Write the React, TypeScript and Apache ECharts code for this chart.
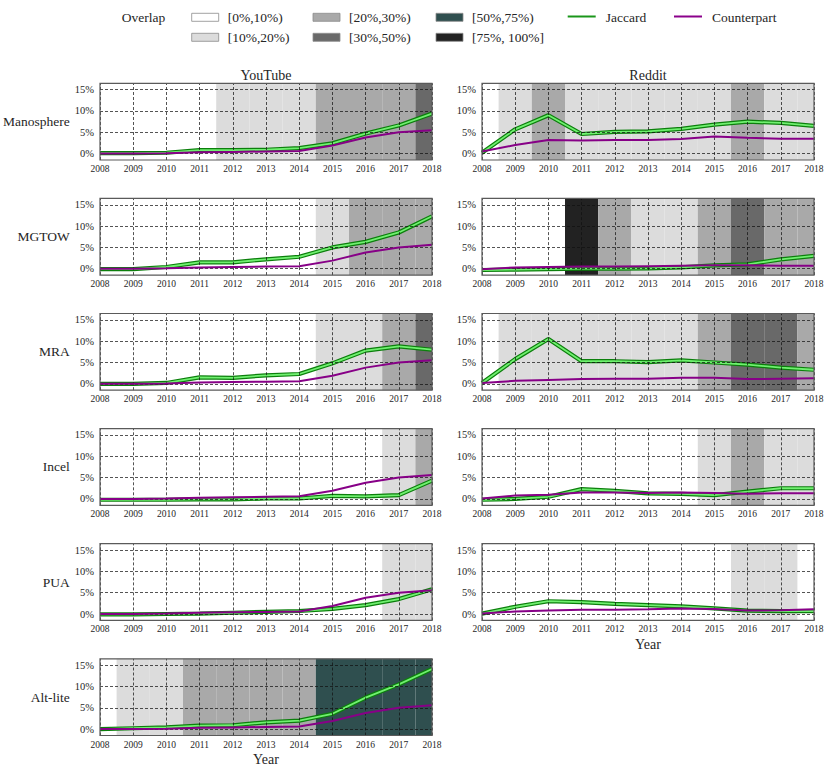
import React, { useEffect, useRef } from "react";
import * as echarts from "echarts";

const YEARS = [2008, 2009, 2010, 2011, 2012, 2013, 2014, 2015, 2016, 2017, 2018];
const Y_TICKS = [0, 5, 10, 15];
const LEVEL_LABELS = ["[0%,10%)", "[10%,20%)", "[20%,30%)", "[30%,50%)", "[50%,75%)", "[75%, 100%]"];
const LEVEL_COLORS = ["#ffffff", "#dcdcdc", "#a9a9a9", "#696969", "#2f4f4f", "#222222"];
const COMMUNITIES = ["Manosphere", "MGTOW", "MRA", "Incel", "PUA", "Alt-lite"];

// YouTube
const YT_JACCARD_MANOSPHERE = [0.1, 0.1, 0.2, 0.8, 0.8, 0.9, 1.3, 2.4, 4.7, 6.6, 9.4];
const YT_JACCARD_MGTOW = [-0.1, -0.1, 0.4, 1.5, 1.5, 2.2, 2.8, 5.0, 6.3, 8.5, 12.3];
const YT_JACCARD_MRA = [0.0, 0.0, 0.2, 1.5, 1.4, 2.0, 2.3, 4.8, 7.8, 8.8, 8.0];
const YT_JACCARD_INCEL = [-0.2, -0.2, -0.2, -0.1, -0.1, 0.1, 0.1, 0.7, 0.6, 0.9, 4.3];
const YT_JACCARD_PUA = [-0.1, -0.1, 0.0, 0.1, 0.3, 0.5, 0.7, 1.2, 2.1, 3.5, 5.8];
const YT_JACCARD_ALTLITE = [0.0, 0.2, 0.4, 0.8, 0.9, 1.6, 2.0, 3.6, 7.4, 10.5, 14.1];

const YT_COUNTER_MANOSPHERE = [0.0, 0.0, 0.1, 0.3, 0.4, 0.5, 0.6, 1.9, 3.8, 5.0, 5.5];
const YT_COUNTER_MGTOW = [0.0, 0.0, 0.1, 0.3, 0.4, 0.5, 0.6, 1.9, 3.8, 5.0, 5.6];
const YT_COUNTER_MRA = [0.0, 0.0, 0.1, 0.3, 0.4, 0.5, 0.6, 1.9, 3.8, 5.0, 5.5];
const YT_COUNTER_INCEL = [0.0, 0.0, 0.1, 0.3, 0.4, 0.5, 0.6, 1.9, 3.8, 5.0, 5.6];
const YT_COUNTER_PUA = [0.0, 0.0, 0.1, 0.3, 0.4, 0.5, 0.6, 1.9, 3.8, 5.0, 5.6];
const YT_COUNTER_ALTLITE = [0.0, 0.0, 0.1, 0.3, 0.4, 0.5, 0.6, 1.9, 3.8, 5.0, 5.6];

const YT_OVERLAP_MANOSPHERE = [0, 0, 0, 0, 1, 1, 1, 2, 2, 2, 3];
const YT_OVERLAP_MGTOW = [0, 0, 0, 0, 0, 0, 0, 1, 2, 2, 2];
const YT_OVERLAP_MRA = [0, 0, 0, 0, 0, 0, 0, 1, 1, 2, 3];
const YT_OVERLAP_INCEL = [0, 0, 0, 0, 0, 0, 0, 0, 0, 1, 2];
const YT_OVERLAP_PUA = [0, 0, 0, 0, 0, 0, 0, 0, 0, 1, 1];
const YT_OVERLAP_ALTLITE = [0, 1, 1, 2, 2, 2, 2, 4, 4, 4, 4];

// Reddit
const RD_JACCARD_MANOSPHERE = [0.2, 5.7, 9.0, 4.6, 5.1, 5.2, 5.8, 6.8, 7.5, 7.2, 6.5];
const RD_JACCARD_MGTOW = [-0.3, -0.2, -0.1, 0.0, 0.0, 0.1, 0.3, 0.8, 1.0, 2.2, 3.0];
const RD_JACCARD_MRA = [0.2, 5.8, 10.5, 5.3, 5.3, 5.1, 5.5, 5.0, 4.5, 3.8, 3.3];
const RD_JACCARD_INCEL = [-0.2, 0.0, 0.5, 2.3, 1.9, 1.3, 1.2, 0.9, 1.7, 2.5, 2.5];
const RD_JACCARD_PUA = [0.1, 1.7, 3.0, 2.8, 2.4, 2.1, 1.8, 1.3, 0.8, 0.7, 0.7];

const RD_COUNTER_MANOSPHERE = [0.5, 2.0, 3.2, 3.1, 3.2, 3.2, 3.4, 4.0, 3.7, 3.5, 3.5];
const RD_COUNTER_MGTOW = [-0.1, 0.3, 0.4, 0.5, 0.5, 0.6, 0.7, 0.8, 0.8, 0.7, 0.7];
const RD_COUNTER_MRA = [0.2, 0.7, 0.9, 1.1, 1.2, 1.2, 1.4, 1.4, 1.1, 1.2, 1.3];
const RD_COUNTER_INCEL = [0.1, 0.8, 1.0, 1.5, 1.5, 1.4, 1.5, 1.4, 1.2, 1.3, 1.3];
const RD_COUNTER_PUA = [0.1, 0.6, 0.8, 1.0, 1.0, 1.1, 1.3, 1.2, 0.8, 0.9, 1.1];

const RD_OVERLAP_MANOSPHERE = [0, 1, 2, 1, 1, 1, 1, 1, 2, 1, 1];
const RD_OVERLAP_MGTOW = [0, 0, 0, 5, 2, 1, 1, 2, 3, 2, 2];
const RD_OVERLAP_MRA = [0, 1, 1, 1, 1, 1, 1, 2, 3, 3, 2];
const RD_OVERLAP_INCEL = [0, 0, 0, 0, 0, 0, 0, 1, 2, 1, 1];
const RD_OVERLAP_PUA = [0, 0, 0, 0, 0, 0, 0, 0, 1, 1, 0];

const FONT = "'Liberation Serif', 'DejaVu Serif', serif";
const TEXT = "#262626";

type Panel = {
  col: number;
  row: number;
  label: string;
  jaccard: number[];
  counter: number[];
  overlap: number[];
  xName: string;
};

const PANELS: Panel[] = [
  { col: 0, row: 0, label: COMMUNITIES[0], jaccard: YT_JACCARD_MANOSPHERE, counter: YT_COUNTER_MANOSPHERE, overlap: YT_OVERLAP_MANOSPHERE, xName: "" },
  { col: 0, row: 1, label: COMMUNITIES[1], jaccard: YT_JACCARD_MGTOW, counter: YT_COUNTER_MGTOW, overlap: YT_OVERLAP_MGTOW, xName: "" },
  { col: 0, row: 2, label: COMMUNITIES[2], jaccard: YT_JACCARD_MRA, counter: YT_COUNTER_MRA, overlap: YT_OVERLAP_MRA, xName: "" },
  { col: 0, row: 3, label: COMMUNITIES[3], jaccard: YT_JACCARD_INCEL, counter: YT_COUNTER_INCEL, overlap: YT_OVERLAP_INCEL, xName: "" },
  { col: 0, row: 4, label: COMMUNITIES[4], jaccard: YT_JACCARD_PUA, counter: YT_COUNTER_PUA, overlap: YT_OVERLAP_PUA, xName: "" },
  { col: 0, row: 5, label: COMMUNITIES[5], jaccard: YT_JACCARD_ALTLITE, counter: YT_COUNTER_ALTLITE, overlap: YT_OVERLAP_ALTLITE, xName: "Year" },
  { col: 1, row: 0, label: "", jaccard: RD_JACCARD_MANOSPHERE, counter: RD_COUNTER_MANOSPHERE, overlap: RD_OVERLAP_MANOSPHERE, xName: "" },
  { col: 1, row: 1, label: "", jaccard: RD_JACCARD_MGTOW, counter: RD_COUNTER_MGTOW, overlap: RD_OVERLAP_MGTOW, xName: "" },
  { col: 1, row: 2, label: "", jaccard: RD_JACCARD_MRA, counter: RD_COUNTER_MRA, overlap: RD_OVERLAP_MRA, xName: "" },
  { col: 1, row: 3, label: "", jaccard: RD_JACCARD_INCEL, counter: RD_COUNTER_INCEL, overlap: RD_OVERLAP_INCEL, xName: "" },
  { col: 1, row: 4, label: "", jaccard: RD_JACCARD_PUA, counter: RD_COUNTER_PUA, overlap: RD_OVERLAP_PUA, xName: "Year" },
];

const COL_LEFT = [100, 482];
const PLOT_W = 332;
const ROW_TOP0 = 83.3;
const ROW_STEP = 115.1;
const PLOT_H = 76.7;

function buildOption() {
  const grid: any[] = [];
  const xAxis: any[] = [];
  const yAxis: any[] = [];
  const series: any[] = [];

  PANELS.forEach((p, k) => {
    grid.push({
      left: COL_LEFT[p.col],
      top: ROW_TOP0 + ROW_STEP * p.row,
      width: PLOT_W,
      height: PLOT_H,
      show: true,
      backgroundColor: "transparent",
      borderColor: "#5a5a5a",
      borderWidth: 1.2,
      z: 10,
    });
    xAxis.push({
      gridIndex: k,
      type: "value",
      min: 2008,
      max: 2018,
      interval: 1,
      axisLine: { show: false },
      axisTick: { show: false },
      splitLine: { show: false },
      axisLabel: {
        fontFamily: FONT,
        fontSize: 9.5,
        color: TEXT,
        margin: 4,
        showMinLabel: true,
        showMaxLabel: true,
        formatter: (v: number) => String(v),
      },
      name: p.xName,
      nameLocation: "middle",
      nameGap: 17,
      nameTextStyle: { fontFamily: FONT, fontSize: 14, color: TEXT },
    });
    yAxis.push({
      gridIndex: k,
      type: "value",
      min: -1.5,
      max: 16.5,
      axisLine: { show: false },
      axisTick: { show: false, customValues: Y_TICKS },
      splitLine: { show: false },
      axisLabel: {
        customValues: Y_TICKS,
        fontFamily: FONT,
        fontSize: 10.5,
        color: TEXT,
        margin: 6,
        formatter: (v: number) => `${v}%`,
      },
      name: p.label,
      nameLocation: "middle",
      nameRotate: 0,
      nameGap: 27,
      nameTextStyle: { fontFamily: FONT, fontSize: 13.5, color: TEXT },
    });

    const areas = YEARS.map((yr, i) => ({ yr, lvl: p.overlap[i] }))
      .filter((d) => d.lvl > 0)
      .map((d) => [
        { xAxis: Math.max(2008, d.yr - 0.5), itemStyle: { color: LEVEL_COLORS[d.lvl], opacity: 1, borderWidth: 0 } },
        { xAxis: Math.min(2018, d.yr + 0.5) },
      ]);

    series.push({
      type: "line",
      xAxisIndex: k,
      yAxisIndex: k,
      data: [],
      z: 1,
      silent: true,
      markArea: { silent: true, emphasis: { disabled: true }, data: areas },
    });
    series.push({
      type: "line",
      xAxisIndex: k,
      yAxisIndex: k,
      data: [],
      z: 2,
      silent: true,
      markLine: {
        silent: true,
        symbol: ["none", "none"],
        label: { show: false },
        emphasis: { disabled: true },
        lineStyle: { color: "#111", width: 0.8, type: [3, 2], opacity: 0.9 },
        data: [
          ...YEARS.map((y) => ({ xAxis: y })),
          ...Y_TICKS.map((v) => ({ yAxis: v })),
        ],
      },
    });
    const jData = YEARS.map((y, i) => [y, p.jaccard[i]]);
    const cData = YEARS.map((y, i) => [y, p.counter[i]]);
    series.push({
      type: "line",
      name: "Jaccard",
      xAxisIndex: k,
      yAxisIndex: k,
      data: jData,
      symbol: "none",
      z: 3,
      silent: true,
      lineStyle: { color: "#0c7f0c", width: 4.2 },
    });
    series.push({
      type: "line",
      xAxisIndex: k,
      yAxisIndex: k,
      data: jData,
      symbol: "none",
      z: 4,
      silent: true,
      lineStyle: { color: "#70f070", width: 1.8 },
    });
    series.push({
      type: "line",
      name: "Counterpart",
      xAxisIndex: k,
      yAxisIndex: k,
      data: cData,
      symbol: "none",
      z: 5,
      silent: true,
      lineStyle: { color: "#870087", width: 2 },
    });
  });

  const graphic: any[] = [];
  const txt = (text: string, x: number, y: number, size: number, align = "left") => ({
    type: "text",
    x,
    y,
    style: {
      text,
      font: `${size}px ${FONT}`,
      fill: TEXT,
      textAlign: align,
      align,
      textVerticalAlign: "middle",
      verticalAlign: "middle",
    },
  });
  graphic.push(txt("Overlap", 121.7, 17.3, 13.5));
  const boxX = [191.7, 313, 436];
  const rowY = [17.3, 37.3];
  LEVEL_LABELS.forEach((lab, i) => {
    const c = Math.floor(i / 2);
    const r = i % 2;
    graphic.push({
      type: "rect",
      shape: { x: boxX[c], y: rowY[r] - 4, width: 27, height: 8 },
      style: { fill: LEVEL_COLORS[i], stroke: "#8a8a8a", lineWidth: 0.8 },
    });
    graphic.push(txt(lab, boxX[c] + 36, rowY[r], 13.5));
  });
  graphic.push({
    type: "line",
    shape: { x1: 567.7, y1: 16.5, x2: 595.7, y2: 16.5 },
    style: { stroke: "#1a961a", lineWidth: 2 },
  });
  graphic.push(txt("Jaccard", 605.7, 17.3, 13.5));
  graphic.push({
    type: "line",
    shape: { x1: 674, y1: 16.5, x2: 702, y2: 16.5 },
    style: { stroke: "#8b008b", lineWidth: 2 },
  });
  graphic.push(txt("Counterpart", 712, 17.3, 13.5));
  graphic.push(txt("YouTube", COL_LEFT[0] + PLOT_W / 2, 75, 14, "center"));
  graphic.push(txt("Reddit", COL_LEFT[1] + PLOT_W / 2, 75, 14, "center"));

  return {
    animation: false,
    backgroundColor: "#ffffff",
    textStyle: { fontFamily: FONT },
    grid,
    xAxis,
    yAxis,
    series,
    graphic,
  };
}

export default function App() {
  const ref = useRef<HTMLDivElement>(null);
  useEffect(() => {
    if (!ref.current) return;
    const chart = echarts.init(ref.current, undefined, { renderer: "svg" });
    chart.setOption(buildOption() as any);
    return () => chart.dispose();
  }, []);
  return (
    <div
      ref={ref}
      style={{ position: "fixed", left: 0, top: 0, width: 830, height: 771, background: "#fff" }}
    />
  );
}
